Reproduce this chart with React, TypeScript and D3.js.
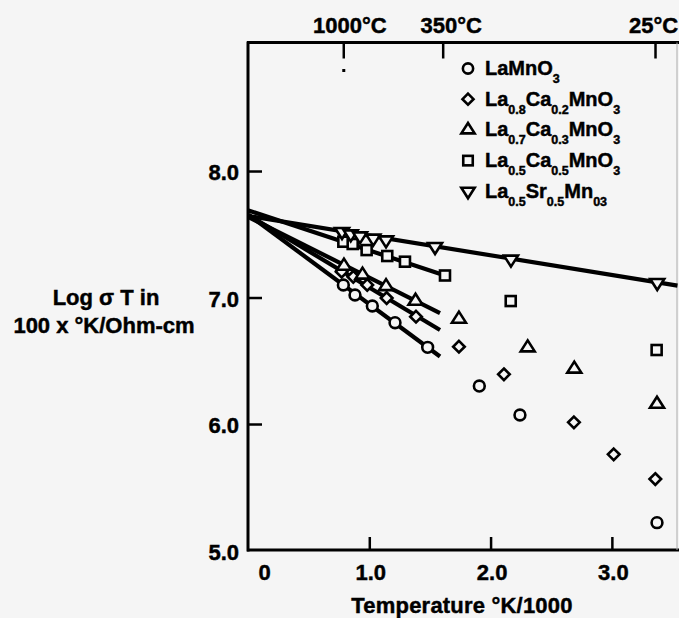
import React from 'react';
import * as d3 from 'd3';

const W = 679;
const H = 618;

// axis ticks
const xTickValues = [0, 1, 2, 3];
const xTickLabels = ['0', '1.0', '2.0', '3.0'];
const yTickValues = [5, 6, 7, 8];
const yTickLabels = ['5.0', '6.0', '7.0', '8.0'];
const topTickCelsius = [1000, 350, 25];
const topTickLabels = ['1000°C', '350°C', '25°C'];

// data: [1000/T, log sigma T]
const laMnO3: [number, number][] = [
  [0.782, 7.103], [0.878, 7.024], [1.021, 6.937], [1.208, 6.805], [1.477, 6.61],
  [1.903, 6.304], [2.238, 6.075], [3.368, 5.224],
];
const laCa02: [number, number][] = [
  [0.768, 7.208], [0.864, 7.168], [0.979, 7.103], [1.139, 7.0], [1.381, 6.852],
  [1.735, 6.615], [2.106, 6.397], [2.683, 6.017], [3.011, 5.764], [3.354, 5.569],
];
const laCa03: [number, number][] = [
  [0.787, 7.253], [0.94, 7.182], [1.134, 7.091], [1.377, 6.976],
  [1.735, 6.834], [2.302, 6.607], [2.686, 6.439], [3.368, 6.162],
];
const laCa05: [number, number][] = [
  [0.782, 7.445], [0.859, 7.427], [0.974, 7.379], [1.144, 7.332], [1.29, 7.287],
  [1.62, 7.178], [2.162, 6.976], [3.365, 6.589],
];
const laSr05: [number, number][] = [
  [0.771, 7.524], [0.843, 7.506], [0.919, 7.49], [1.029, 7.472], [1.134, 7.458],
  [1.538, 7.406], [2.164, 7.306], [3.37, 7.121],
];

// fitted lines [start, end]
const lineLaMnO3: [number, number][] = [[0, 7.658], [1.579, 6.538]];
const lineCa02: [number, number][] = [[0, 7.656], [1.579, 6.747]];
const lineCa03: [number, number][] = [[0, 7.64], [1.579, 6.881]];
const lineCa05: [number, number][] = [[0, 7.692], [1.62, 7.178]];
const lineSr05: [number, number][] = [[0, 7.648], [3.537, 7.098]];

type Shape = 'circle' | 'diamond' | 'triUp' | 'square' | 'triDown';
const seriesShapes: Shape[] = ['circle', 'diamond', 'triUp', 'square', 'triDown'];
const seriesData = [laMnO3, laCa02, laCa03, laCa05, laSr05];
const seriesLines = [lineLaMnO3, lineCa02, lineCa03, lineCa05, lineSr05];

// legend labels: [text, isSubscript]
const legendLabels: [string, boolean][][] = [
  [['LaMnO', false], ['3', true]],
  [['La', false], ['0.8', true], ['Ca', false], ['0.2', true], ['MnO', false], ['3', true]],
  [['La', false], ['0.7', true], ['Ca', false], ['0.3', true], ['MnO', false], ['3', true]],
  [['La', false], ['0.5', true], ['Ca', false], ['0.5', true], ['MnO', false], ['3', true]],
  [['La', false], ['0.5', true], ['Sr', false], ['0.5', true], ['Mn', false], ['03', true]],
];

const BG = '#f5f5f5';
const FONT = '"Liberation Sans", Arial, Helvetica, sans-serif';

function Marker({ shape, cx, cy, s = 1 }: { shape: Shape; cx: number; cy: number; s?: number }) {
  const common = { fill: BG, stroke: '#000', strokeWidth: 2.6 };
  if (shape === 'circle') return <circle cx={cx} cy={cy} r={5.4 * s} {...common} />;
  if (shape === 'square') {
    const a = 5 * s;
    return <rect x={cx - a} y={cy - a} width={2 * a} height={2 * a} {...common} />;
  }
  if (shape === 'diamond') {
    const a = 5.8 * s;
    return <path d={`M${cx},${cy - a}L${cx + a},${cy}L${cx},${cy + a}L${cx - a},${cy}Z`} {...common} />;
  }
  const w = 7 * s;
  const h = 11 * s;
  if (shape === 'triUp') {
    return <path d={`M${cx},${cy - (2 * h) / 3}L${cx + w},${cy + h / 3}L${cx - w},${cy + h / 3}Z`} {...common} strokeLinejoin="miter" />;
  }
  return <path d={`M${cx},${cy + (2 * h) / 3}L${cx + w},${cy - h / 3}L${cx - w},${cy - h / 3}Z`} {...common} strokeLinejoin="miter" />;
}

export default function App() {
  const x = d3.scaleLinear().domain([0, 3.537]).range([248.5, 677.5]);
  const y = d3.scaleLinear().domain([5, 9.016]).range([551, 43]);
  const line = d3.line<[number, number]>().x((d) => x(d[0])).y((d) => y(d[1]));

  const left = 248;
  const top = 42.5;
  const bottom = 550;
  const right = 679;

  const topTickX = topTickCelsius.map((c) => 1000 / (c + 273));
  const topLabelDx = [6, 8, -2];

  const legendX = 468;
  const legendBase = 75;
  const legendStep = 30.7;

  const textStroke = { stroke: '#000', strokeWidth: 0.45 };

  return (
    <svg
      width={W}
      height={H}
      style={{ position: 'absolute', left: 0, top: 0, background: BG }}
      fontFamily={FONT}
      fontWeight="bold"
    >
      <rect x={0} y={0} width={W} height={H} fill={BG} />

      {/* frame */}
      <line x1={left - 1} x2={right} y1={top} y2={top} stroke="#000" strokeWidth={3} />
      <line x1={left} x2={left} y1={top - 1} y2={bottom + 1.5} stroke="#000" strokeWidth={3} />
      <line x1={left - 1} x2={right} y1={bottom} y2={bottom} stroke="#000" strokeWidth={3} />
      <line x1={677} x2={677} y1={top} y2={bottom} stroke="#aaa" strokeWidth={1} />

      <g {...textStroke}>
        {/* bottom ticks */}
        {xTickValues.map((v, i) => (
          <g key={'xt' + i}>
            {v > 0 && <line x1={x(v)} x2={x(v)} y1={bottom} y2={bottom - 13} stroke="#000" strokeWidth={2.5} />}
            <text x={x(v) + (v === 0 ? 16 : 1)} y={580} fontSize={22} textAnchor="middle">
              {xTickLabels[i]}
            </text>
          </g>
        ))}
        <text x={462} y={613} fontSize={22} letterSpacing={0.2} textAnchor="middle">
          Temperature °K/1000
        </text>

        {/* left ticks */}
        {yTickValues.map((v, i) => (
          <g key={'yt' + i}>
            {v > 5 && <line x1={left} x2={left + 14} y1={y(v)} y2={y(v)} stroke="#000" strokeWidth={2.5} />}
            <text x={239} y={y(v) + 8.5} fontSize={22} textAnchor="end">
              {yTickLabels[i]}
            </text>
          </g>
        ))}
        <text x={106} y={305} fontSize={22} textAnchor="middle">
          Log σ T in
        </text>
        <text x={104} y={333} fontSize={22} textAnchor="middle">
          100 x °K/Ohm-cm
        </text>

        {/* top ticks */}
        {topTickX.map((v, i) => (
          <g key={'tt' + i}>
            <line x1={x(v)} x2={x(v)} y1={top} y2={top + 16} stroke="#000" strokeWidth={2.5} />
            <text x={x(v) + topLabelDx[i]} y={33} fontSize={22} textAnchor="middle">
              {topTickLabels[i]}
            </text>
          </g>
        ))}
      </g>
      <rect x={x(topTickX[0]) - 1.5} y={69} width={3} height={3} fill="#000" />

      {/* fitted lines */}
      {seriesLines.map((l, i) => (
        <path key={'l' + i} d={line(l) || ''} fill="none" stroke="#000" strokeWidth={4.2} strokeLinecap="butt" />
      ))}

      {/* markers */}
      {seriesData.map((pts, i) => (
        <g key={'s' + i}>
          {pts.map((p, j) => (
            <Marker key={j} shape={seriesShapes[i]} cx={x(p[0])} cy={y(p[1])} />
          ))}
        </g>
      ))}

      {/* legend */}
      {legendLabels.map((parts, i) => {
        const base = legendBase + i * legendStep;
        return (
          <g key={'lg' + i}>
            <Marker shape={seriesShapes[i]} cx={legendX} cy={base - 6.5} s={0.95} />
            <text x={485} y={base} fontSize={20} {...textStroke}>
              {parts.map(([t, sub], k) => (
                <tspan
                  key={k}
                  fontSize={sub ? 12.5 : 20}
                  dy={sub ? (k > 0 && parts[k - 1][1] ? 0 : 8) : k > 0 && parts[k - 1][1] ? -8 : 0}
                >
                  {t}
                </tspan>
              ))}
            </text>
          </g>
        );
      })}
    </svg>
  );
}
